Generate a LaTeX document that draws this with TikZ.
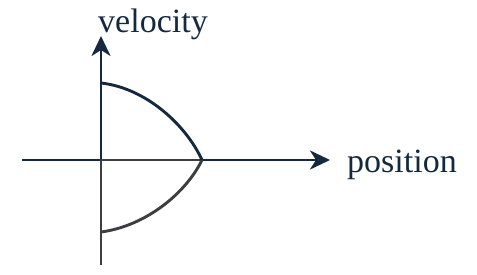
\documentclass[tikz,border=0pt]{standalone}
\usepackage{fontspec}
\setmainfont{Liberation Serif}
\usetikzlibrary{arrows.meta}
\definecolor{navy}{HTML}{14293D}
\definecolor{slate}{HTML}{3E3E40}

\tikzset{
  axis/.style={navy, line width=2.9pt, -{Stealth[length=20pt, width=19pt, inset=6pt]}},
  phase/.style={line width=2.9pt, line join=round},
  axislabel/.style={navy, inner sep=0pt, font=\fontsize{34}{36}\selectfont}
}

\begin{document}
\begin{tikzpicture}[x=1pt, y=1pt]
  \useasboundingbox (-101,-114) rectangle (376,160);

  \coordinate (O) at (0,0);
  \coordinate (xstart) at (-79,0);
  \coordinate (xend) at (229,0);
  \coordinate (vtop) at (0,124);
  \coordinate (vbottom) at (0,-105);
  \coordinate (vmax) at (0,77);
  \coordinate (vmin) at (0,-72);
  \coordinate (stop) at (101,0);

  % axes
  \draw[axis] (xstart) -- (xend);
  \draw[axis] (O) -- (vtop);

  % lower branch
  \draw[phase, slate] (vbottom) -- (O) -- (stop);
  \draw[phase, slate] (stop) .. controls (85,-33) and (45,-66) .. (vmin);

  % upper branch
  \draw[phase, navy] (vmax) .. controls (45,72) and (85,35) .. (stop);

  \node[axislabel, anchor=base] (vlabel) at (52,128) {velocity};
  \node[axislabel, anchor=base west] (xlabel) at (246,-12) {position};
\end{tikzpicture}
\end{document}
